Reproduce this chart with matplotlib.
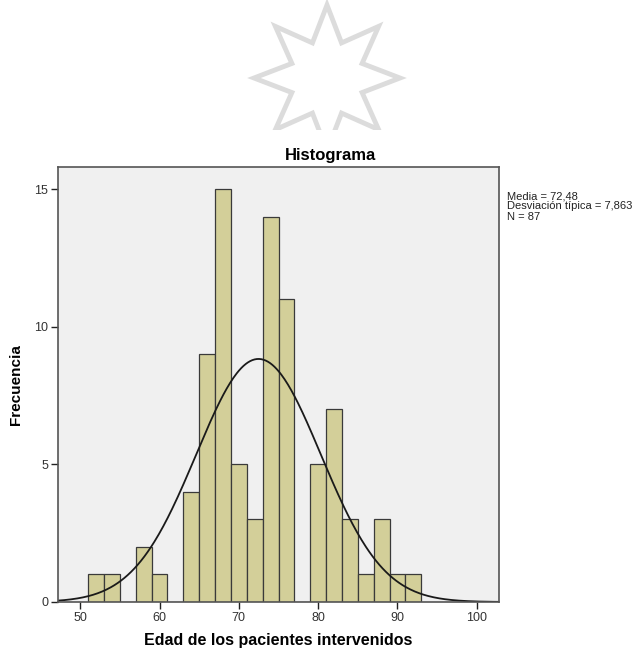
import numpy as np
import matplotlib
matplotlib.use("Agg")
import matplotlib.pyplot as plt
from matplotlib.patches import Polygon

plt.rcParams['font.family'] = ['Liberation Sans', 'DejaVu Sans']

# histogram data (bin edges every 2 years, 51..93)
bin_edges = np.arange(51, 95, 2)
counts = [1, 1, 0, 2, 1, 0, 4, 9, 15, 5, 3, 14, 11, 0, 5, 7, 3, 1, 3, 1, 1]
media = 72.48
desv = 7.863
n = 87

xticks = [50, 60, 70, 80, 90, 100]
yticks = [0, 5, 10, 15]

fig = plt.figure(figsize=(6.37, 6.54), dpi=100)

# watermark star at the top
ax_star = fig.add_axes([0, 1 - 130 / 654, 1, 130 / 654])
ax_star.set_xlim(0, 637)
ax_star.set_ylim(130, 0)
ax_star.axis("off")
cx, cy, r_out, r_in = 327, 78, 73, 38
ang = np.pi / 2 - np.arange(16) * np.pi / 8
rad = np.where(np.arange(16) % 2 == 0, r_out, r_in)
pts = np.column_stack([cx + rad * np.cos(ang), cy - rad * np.sin(ang)])
ax_star.add_patch(Polygon(pts, closed=True, fill=False, edgecolor="#dcdcdc",
                          linewidth=3.5, joinstyle="miter"))

ax = fig.add_axes([58 / 637, 52 / 654, 441 / 637, 435 / 654])
ax.set_facecolor("#f0f0f0")
ax.bar(bin_edges[:-1], counts, width=2, align="edge", color="#d3cf99",
       edgecolor="#3a3a3a", linewidth=0.9)

xs = np.linspace(47, 103, 400)
curve = n * 2 / (desv * np.sqrt(2 * np.pi)) * np.exp(-0.5 * ((xs - media) / desv) ** 2)
ax.plot(xs, curve, color="#1a1a1a", linewidth=1.3)

ax.set_xlim(47.2, 102.8)
ax.set_ylim(0, 15.8)
ax.set_xticks(xticks)
ax.set_yticks(yticks)
ax.tick_params(direction="out", length=5, width=1, colors="#222222",
               labelsize=9, labelcolor="#333333", pad=2)
for s in ax.spines.values():
    s.set_color("#555555")
    s.set_linewidth(1.2)

fig.text(331 / 637, 1 - 160 / 654, "Histograma", fontsize=12,
         fontweight="bold", ha="center", va="baseline")
ax.set_xlabel("Edad de los pacientes intervenidos", fontsize=11.5,
              fontweight="bold", labelpad=7)
ax.set_ylabel("Frecuencia", fontsize=11, fontweight="bold", labelpad=8)

fig.text(507 / 637, 1 - 191 / 654,
         "Media = 72,48\nDesviación típica = 7,863\nN = 87",
         fontsize=8, va="top", ha="left", linespacing=1.05, color="#222222")

fig.savefig("out.png", dpi=100)
